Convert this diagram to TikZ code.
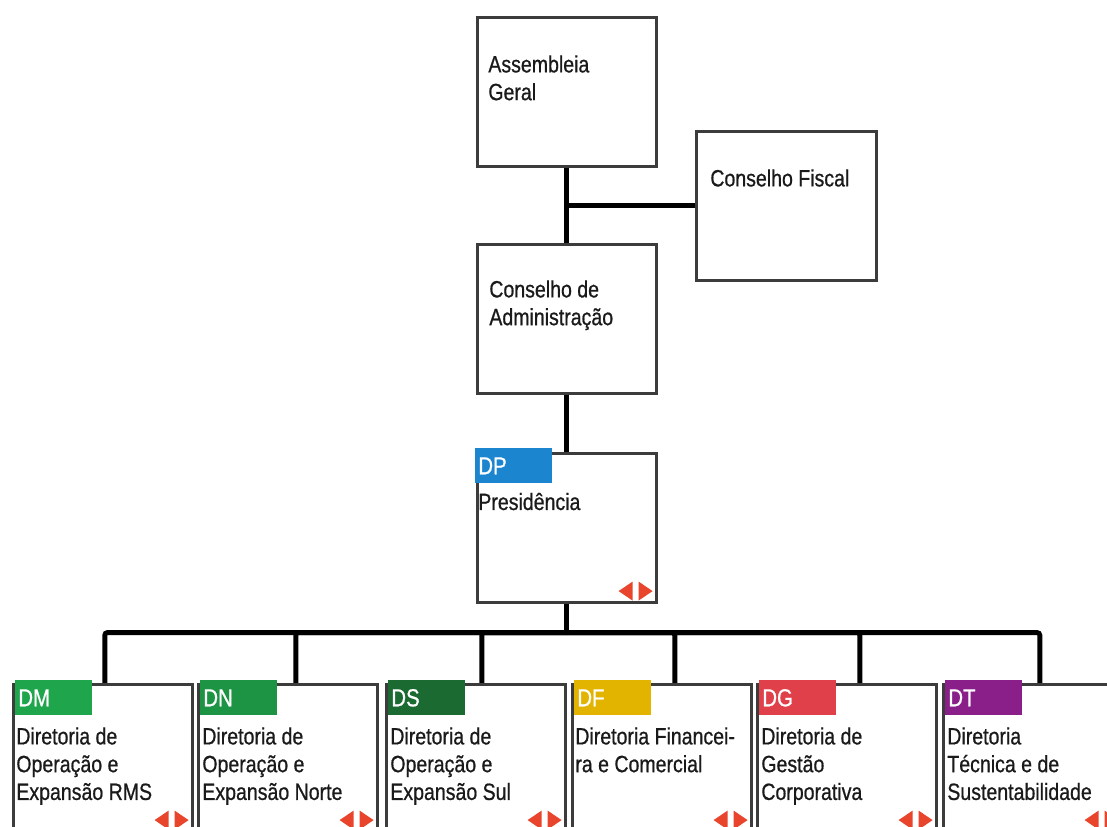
\documentclass[tikz,border=0pt]{standalone}
\usepackage{fontspec}
\setmainfont{Liberation Sans}[FakeStretch=0.83, FakeBold=0.7]
\usepackage{tikz}
\usetikzlibrary{calc, positioning}

\definecolor{boxgray}{HTML}{3C3C3C}
\definecolor{textgray}{HTML}{1A1A1A}
\definecolor{navred}{HTML}{E8452C}
\definecolor{dpblue}{HTML}{1B86CF}
\definecolor{dmgreen}{HTML}{1FA54B}
\definecolor{dngreen}{HTML}{1C9444}
\definecolor{dsgreen}{HTML}{1A6A32}
\definecolor{dfyellow}{HTML}{E2B400}
\definecolor{dgred}{HTML}{E0404A}
\definecolor{dtpurple}{HTML}{8A1F8A}

% red left/right marks in the lower right corner of a box
\newcommand{\navmark}[1]{%
	\fill[navred] ($(#1.south east)+(-5,-12.5)$) -- ($(#1.south east)+(-19,-3)$) -- ($(#1.south east)+(-19,-22)$) -- cycle;
	\fill[navred] ($(#1.south east)+(-39,-12.5)$) -- ($(#1.south east)+(-25,-3)$) -- ($(#1.south east)+(-25,-22)$) -- cycle;
}

\begin{document}
\begin{tikzpicture}[x=0.02cm, y=-0.02cm,
	box/.style={draw=boxgray, line width=1.5pt, fill=white, minimum width=3.58cm, minimum height=2.98cm, anchor=north west, inner sep=0pt},
	txt/.style={anchor=north west, align=left, inner sep=0pt, text=textgray, font=\fontsize{13.4}{15.8}\selectfont},
	tag/.style={anchor=north west, inner xsep=0.06cm, inner ysep=0pt, minimum height=0.7cm, text width=1.42cm, align=left, text=white, font=\fontsize{14}{15.8}\selectfont},
	link/.style={line width=2.8pt, black, rounded corners=1.5pt}]
			
			% PAGE
			\clip (0,0) rectangle (1107,827);
			\fill[white] (0,0) rectangle (1107,827);
			
			% BOARDS
			\node[box] (ag) at (476,16) {};
			\node[box, minimum width=3.6cm] (cf) at (695,130) {};
			\node[box] (ca) at (476,243) {};
			\node[box] (dp) at (476,452) {};
			
			% DIRECTORATES
			\node[box, minimum height=2.94cm] (dm) at (12,683) {};
			\node[box, minimum height=2.94cm] (dn) at (197,683) {};
			\node[box, minimum height=2.94cm] (ds) at (385,683) {};
			\node[box, minimum height=2.94cm] (df) at (571,683) {};
			\node[box, minimum height=2.94cm] (dg) at (756,683) {};
			\node[box, minimum height=2.94cm] (dt) at (942,683) {};
			
			% CONNECTORS
			\draw[link] (ag.south) -- (ca.north);
			\draw[link] (cf.west) -- (cf.west -| ag.south);
			\draw[link] (ca.south) -- (dp.north);
			\draw[link] (dp.south) -- ++(0,29) coordinate (bus);
			\draw[link] (bus) -| ($(dm.north)+(2,0)$);
			\draw[link] (bus) -| ($(dn.north)+(8,0)$);
			\draw[link] (bus) -| ($(ds.north)+(6,0)$);
			\draw[link] (bus) -| ($(df.north)+(13,0)$);
			\draw[link] (bus) -| ($(dg.north)+(13,0)$);
			\draw[link] (bus) -| ($(dt.north)+(7,0)$);
			
			% TEXTS
			\node[txt] (agtxt) at ($(ag.north west)+(12,39)$) {Assembleia\\Geral};
			\node[txt] (cftxt) at ($(cf.north west)+(15,39)$) {Conselho Fiscal};
			\node[txt] (catxt) at ($(ca.north west)+(13,37)$) {Conselho de\\Administração};
			\node[tag, fill=dpblue] (dptag) at ($(dp.north west)+(-1,-4)$) {DP};
			\node[txt, anchor=base west] (dptxt) at ($(dp.north west)+(2,58)$) {Presidência};
			
			\node[tag, fill=dmgreen] (dmtag) at ($(dm.north west)+(3,-3)$) {DM};
			\node[txt] (dmtxt) at ($(dm.north west)+(4,44)$) {Diretoria de\\Operação e\\Expansão RMS};
			\node[tag, fill=dngreen] (dntag) at ($(dn.north west)+(3,-3)$) {DN};
			\node[txt] (dntxt) at ($(dn.north west)+(5,44)$) {Diretoria de\\Operação e\\Expansão Norte};
			\node[tag, fill=dsgreen] (dstag) at ($(ds.north west)+(3,-3)$) {DS};
			\node[txt] (dstxt) at ($(ds.north west)+(5,44)$) {Diretoria de\\Operação e\\Expansão Sul};
			\node[tag, fill=dfyellow] (dftag) at ($(df.north west)+(3,-3)$) {DF};
			\node[txt] (dftxt) at ($(df.north west)+(4,44)$) {Diretoria Financei-\\ra e Comercial};
			\node[tag, fill=dgred] (dgtag) at ($(dg.north west)+(3,-3)$) {DG};
			\node[txt] (dgtxt) at ($(dg.north west)+(5,44)$) {Diretoria de\\Gestão\\Corporativa};
			\node[tag, fill=dtpurple] (dttag) at ($(dt.north west)+(3,-3)$) {DT};
			\node[txt] (dttxt) at ($(dt.north west)+(5,44)$) {Diretoria\\Técnica e de\\Sustentabilidade};
			
			% MARKS
			\navmark{dp}
			\navmark{dm}
			\navmark{dn}
			\navmark{ds}
			\navmark{df}
			\navmark{dg}
			\navmark{dt}
\end{tikzpicture}
\end{document}
